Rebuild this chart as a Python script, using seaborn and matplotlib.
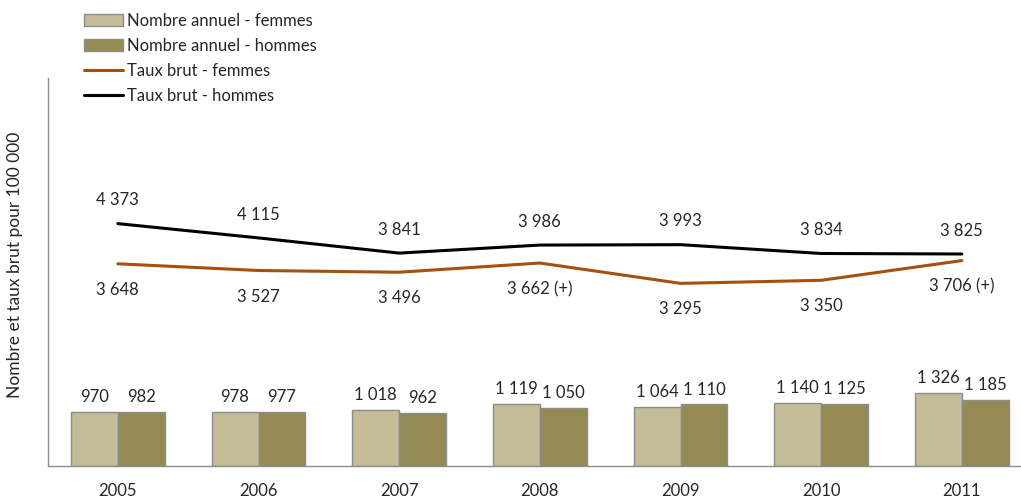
import matplotlib
matplotlib.use("Agg")
import matplotlib.pyplot as plt
from matplotlib.patches import Patch
from matplotlib.lines import Line2D
import seaborn as sns
import pandas as pd

# Data
years = ["2005", "2006", "2007", "2008", "2009", "2010", "2011"]
nombre_femmes = [970, 978, 1018, 1119, 1064, 1140, 1326]
nombre_hommes = [982, 977, 962, 1050, 1110, 1125, 1185]
taux_femmes = [3648, 3527, 3496, 3662, 3295, 3350, 3706]
taux_hommes = [4373, 4115, 3841, 3986, 3993, 3834, 3825]
taux_femmes_labels = ["3 648", "3 527", "3 496", "3 662 (+)", "3 295", "3 350", "3 706 (+)"]
series_names = ["Nombre annuel - femmes", "Nombre annuel - hommes",
                "Taux brut - femmes", "Taux brut - hommes"]

COL_F_BAR = "#C4BD97"
COL_H_BAR = "#948A54"
COL_F_LINE = "#A4500F"
COL_H_LINE = "#000000"
EDGE = "#8C8C8C"
FS = 12


def fmt(v):
    return f"{v:,}".replace(",", " ")


sns.set_theme(style="white")
plt.rcParams["font.family"] = ["Lato", "DejaVu Sans"]
plt.rcParams["font.size"] = FS

df = pd.DataFrame({
    "annee": years * 2,
    "nombre": nombre_femmes + nombre_hommes,
    "serie": [series_names[0]] * len(years) + [series_names[1]] * len(years),
})

fig = plt.figure(figsize=(10.21, 4.99), dpi=100)
ax = fig.add_axes([47.5 / 1021, 33 / 499, 984.7 / 1021, 388 / 499])

sns.barplot(data=df, x="annee", y="nombre", hue="serie",
            palette=[COL_F_BAR, COL_H_BAR], width=2 / 3, gap=0,
            edgecolor=EDGE, linewidth=1.0, legend=False, ax=ax, saturation=1)

pos = list(range(len(years)))
sns.lineplot(x=pos, y=taux_femmes, color=COL_F_LINE, linewidth=2.2, ax=ax)
sns.lineplot(x=pos, y=taux_hommes, color=COL_H_LINE, linewidth=2.2, ax=ax)

# Value labels
for i in pos:
    ax.annotate(fmt(nombre_femmes[i]), (i - 1 / 6, nombre_femmes[i]),
                xytext=(0, 5), textcoords="offset points",
                ha="center", va="bottom", fontsize=FS)
    ax.annotate(fmt(nombre_hommes[i]), (i + 1 / 6, nombre_hommes[i]),
                xytext=(0, 5), textcoords="offset points",
                ha="center", va="bottom", fontsize=FS)
    ax.annotate(fmt(taux_hommes[i]), (i, taux_hommes[i]),
                xytext=(0, 11), textcoords="offset points",
                ha="center", va="bottom", fontsize=FS)
    ax.annotate(taux_femmes_labels[i], (i, taux_femmes[i]),
                xytext=(0, -13), textcoords="offset points",
                ha="center", va="top", fontsize=FS)

ax.set_xlim(-0.5, len(years) - 0.5)
ax.set_ylim(0, 7000)
ax.set_yticks([])
ax.set_xlabel("")
ax.set_ylabel("")
ax.tick_params(axis="x", length=0, pad=12, labelsize=FS)
for s in ["top", "right"]:
    ax.spines[s].set_visible(False)
for s in ["left", "bottom"]:
    ax.spines[s].set_color(EDGE)
    ax.spines[s].set_linewidth(1.0)

fig.text(15 / 1021, 1 - 265 / 499, "Nombre et taux brut pour 100 000",
         rotation=90, ha="center", va="center", fontsize=12.5)

handles = [
    Patch(facecolor=COL_F_BAR, edgecolor=EDGE, linewidth=1.0),
    Patch(facecolor=COL_H_BAR, edgecolor=EDGE, linewidth=1.0),
    Line2D([], [], color=COL_F_LINE, linewidth=2.2),
    Line2D([], [], color=COL_H_LINE, linewidth=2.2),
]
fig.legend(handles, series_names, loc="upper left",
           bbox_to_anchor=(77 / 1021, 1 - 6 / 499), frameon=False,
           handlelength=2.35, handleheight=0.75, handletextpad=0.25,
           labelspacing=0.55, fontsize=FS, borderaxespad=0)

fig.savefig("out.png", dpi=100)
